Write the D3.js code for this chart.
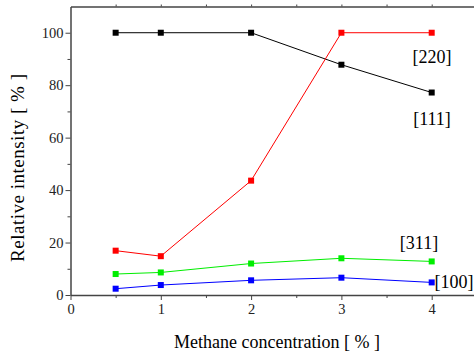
<!DOCTYPE html>
<html>
<head>
    <title>Relative intensity vs methane concentration</title>
    <script src="https://d3js.org/d3.v7.min.js"></script>
    <style>
        body {
            margin: 0;
            background-color: #fff;
        }
        svg text {
            font-family: 'Liberation Serif', 'DejaVu Serif', serif;
        }
        .tick text {
            font-size: 14.5px;
            fill: #222;
        }
        .domain, .tick line {
            stroke: #444;
        }
    </style>
</head>
<body>
    <div id="chart"></div>
    <script>
        // concentrations
        const conc = [0.5, 1, 2, 3, 4];

        // relative intensity for each orientation
        const i111 = [100, 100, 100, 87.8, 77.2];
        const i220 = [16.9, 14.8, 43.6, 100, 100];
        const i311 = [8.0, 8.6, 12.0, 14.0, 12.8];
        const i100 = [2.4, 3.8, 5.6, 6.6, 4.8];

        const xTicks = [0, 1, 2, 3, 4];
        const yTicks = [0, 20, 40, 60, 80, 100];

        const series = [
            { name: '[111]', values: i111, color: '#000000', lx: 432, ly: 125 },
            { name: '[220]', values: i220, color: '#ff0000', lx: 432, ly: 63 },
            { name: '[311]', values: i311, color: '#00ee00', lx: 419, ly: 249 },
            { name: '[100]', values: i100, color: '#0000ff', lx: 454, ly: 288 }
        ];

        const width = 474;
        const height = 356;
        const margin = { left: 70.5, top: 6.5, bottom: 295 };
        const serif = "'Liberation Serif', 'DejaVu Serif', serif";

        const svg = d3.select('#chart')
            .append('svg')
            .attr('width', width)
            .attr('height', height)
            .attr('font-family', serif);

        const x = d3.scaleLinear().domain([0, 4.5]).range([margin.left, margin.left + 4.5 * 90.3]);
        const y = d3.scaleLinear().domain([0, 110]).range([margin.bottom, margin.top]);

        // bottom axis with minor ticks
        svg.append('g')
            .attr('transform', `translate(0,${margin.bottom})`)
            .call(d3.axisBottom(x).tickValues(d3.range(0.5, 4.6, 1)).tickSize(3).tickFormat(''))
            .call(g => g.select('.domain').remove());
        svg.append('g')
            .attr('transform', `translate(0,${margin.bottom})`)
            .call(d3.axisBottom(x).tickValues(xTicks).tickFormat(d3.format('d')).tickSize(5).tickSizeOuter(0).tickPadding(4))
            .call(g => g.attr('font-family', serif))
            .call(g => g.select('.domain').attr('stroke-width', 1.5));

        // top mirror axis
        svg.append('g')
            .attr('transform', `translate(0,${margin.top})`)
            .call(d3.axisTop(x).tickValues(d3.range(0.5, 4.6, 0.5)).tickSize(2).tickSizeOuter(0).tickFormat(''))
            .call(g => g.select('.domain').attr('stroke-width', 1.5));

        // left axis with minor ticks
        svg.append('g')
            .attr('transform', `translate(${margin.left},0)`)
            .call(d3.axisLeft(y).tickValues(d3.range(10, 110, 20)).tickSize(3).tickFormat(''))
            .call(g => g.select('.domain').remove());
        svg.append('g')
            .attr('transform', `translate(${margin.left},0)`)
            .call(d3.axisLeft(y).tickValues(yTicks).tickFormat(d3.format('d')).tickSize(5).tickSizeOuter(0).tickPadding(2))
            .call(g => g.attr('font-family', serif))
            .call(g => g.select('.domain').attr('stroke-width', 1.5));

        // axis titles
        svg.append('text')
            .attr('x', 277)
            .attr('y', 348)
            .attr('text-anchor', 'middle')
            .attr('font-family', serif)
            .style('font-size', '18px')
            .text('Methane concentration [ % ]');

        svg.append('text')
            .attr('transform', 'translate(24,168) rotate(-90)')
            .attr('text-anchor', 'middle')
            .attr('font-family', serif)
            .attr('textLength', 188)
            .attr('lengthAdjust', 'spacing')
            .style('font-size', '19px')
            .text('Relative intensity [ % ]');

        const line = d3.line()
            .x((d, i) => x(conc[i]))
            .y(d => y(d));

        series.forEach(s => {
            svg.append('path')
                .datum(s.values)
                .attr('fill', 'none')
                .attr('stroke', s.color)
                .attr('stroke-width', 1)
                .attr('d', line);

            svg.selectAll(null)
                .data(s.values)
                .enter()
                .append('rect')
                .attr('x', (d, i) => x(conc[i]) - 3)
                .attr('y', d => y(d) - 3)
                .attr('width', 6)
                .attr('height', 6)
                .attr('fill', s.color);

            svg.append('text')
                .attr('x', s.lx)
                .attr('y', s.ly)
                .attr('text-anchor', 'middle')
                .attr('font-family', serif)
                .style('font-size', '18px')
                .text(s.name);
        });
    </script>
</body>
</html>
